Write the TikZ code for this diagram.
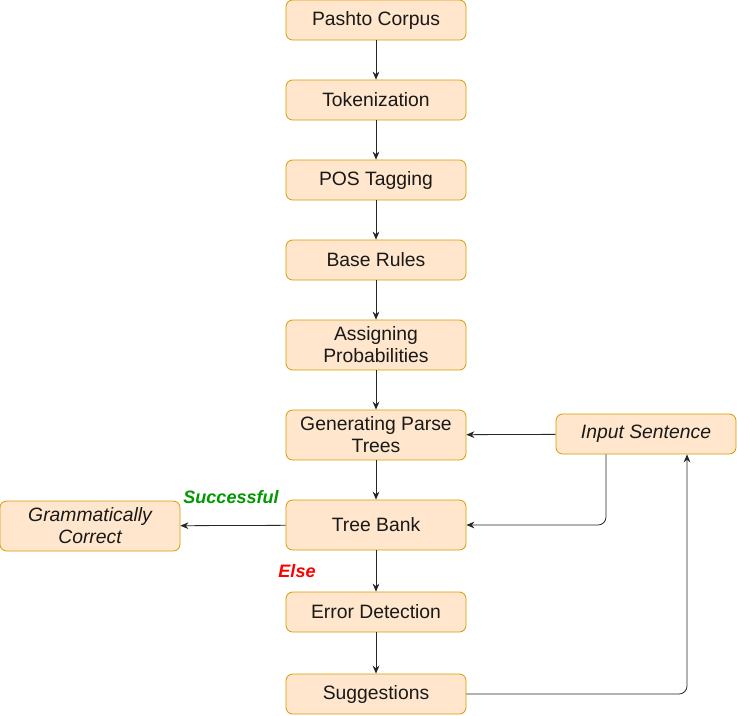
\documentclass[tikz,border=0pt]{standalone}
\usepackage{fontspec}
\setmainfont{Liberation Sans}
\usetikzlibrary{arrows.meta}
\usetikzlibrary{positioning}

\definecolor{boxfill}{HTML}{FFE6CC}
\definecolor{boxline}{HTML}{D79B00}
\definecolor{okgreen}{HTML}{009900}

\begin{document}
\begin{tikzpicture}[x=0.75pt, y=-0.75pt,
  stage/.style={draw=boxline, fill=boxfill, rounded corners=5pt, line width=0.6pt,
    minimum width=135pt, minimum height=30pt, inner sep=0pt, align=center,
    text=black!90, font=\fontsize{14.5}{16.5}\selectfont},
  tall/.style={minimum height=37.5pt},
  mark label/.style={font=\fontsize{13.5}{15}\selectfont\bfseries\itshape},
  flow/.style={draw=black!85, line width=0.6pt, -{Stealth[length=6pt,width=5pt]}}]
\useasboundingbox (0,0) rectangle (737,715);

\node[stage] (corpus) at (376, 20) {Pashto Corpus};
\node[stage] (token) at (376, 100) {Tokenization};
\node[stage] (pos) at (376, 180) {POS Tagging};
\node[stage] (rules) at (376, 260) {Base Rules};
\node[stage, tall] (prob) at (376, 345) {Assigning\\Probabilities};
\node[stage, tall] (parse) at (376, 435) {Generating Parse\\Trees};
\node[stage, tall] (bank) at (376, 525) {Tree Bank};
\node[stage] (error) at (376, 612) {Error Detection};
\node[stage] (sugg) at (376, 694) {Suggestions};
\node[stage] (input) at (646, 434) {\itshape Input Sentence};
\node[stage, tall] (correct) at (90, 526) {\itshape Grammatically\\\itshape Correct};

\node[mark label, text=okgreen] (ok) at (231, 497) {Successful};
\node[mark label, text=red] (else) at (297, 571) {Else};

\draw[flow] (corpus) -- (token);
\draw[flow] (token) -- (pos);
\draw[flow] (pos) -- (rules);
\draw[flow] (rules) -- (prob);
\draw[flow] (prob) -- (parse);
\draw[flow] (parse) -- (bank);
\draw[flow] (bank) -- (error);
\draw[flow] (error) -- (sugg);
\draw[flow] (input) -- (parse);
\draw[flow] (bank) -- (correct);

\coordinate (down) at ([xshift=-30pt]input.south);
\coordinate (up) at ([xshift=30.75pt]input.south);
\draw[flow, rounded corners=6pt] (down) |- (bank.east);
\draw[flow, rounded corners=6pt] (sugg.east) -| (up);

\end{tikzpicture}
\end{document}
